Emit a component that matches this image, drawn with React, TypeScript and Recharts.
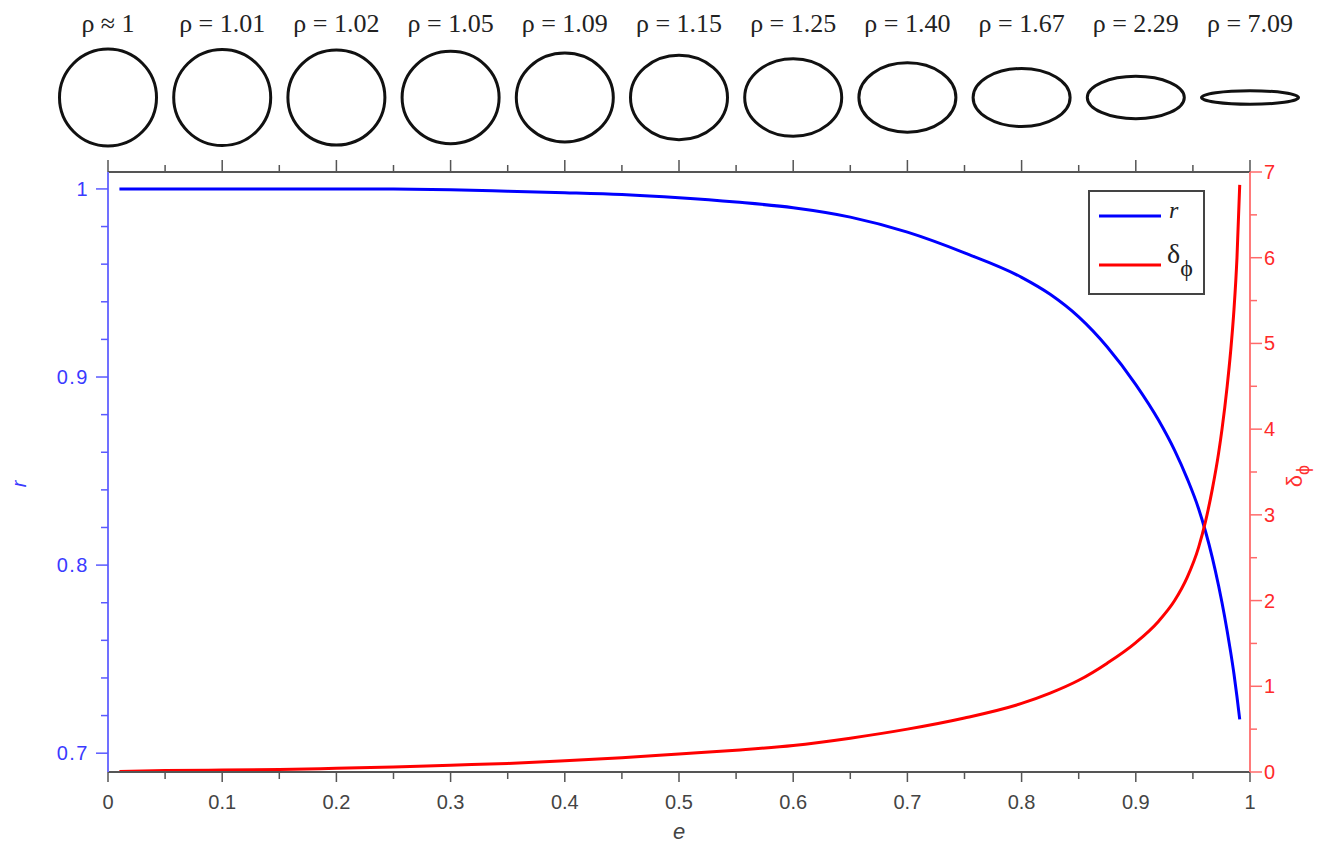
import React from 'react';
import { ComposedChart, Line, XAxis, YAxis, Legend, Label } from 'recharts';

const eValues = [0.01, 0.05, 0.1, 0.15, 0.2, 0.25, 0.3, 0.35, 0.4, 0.45, 0.5, 0.55, 0.6, 0.65, 0.7, 0.75, 0.8, 0.825, 0.85, 0.875, 0.9, 0.92, 0.934, 0.945, 0.955, 0.961, 0.967, 0.9725, 0.9755, 0.98, 0.983, 0.986, 0.9886, 0.991];
const rValues = [1.0, 1.0, 1.0, 1.0, 1.0, 0.9999, 0.9995, 0.9988, 0.998, 0.997, 0.9953, 0.993, 0.99, 0.985, 0.977, 0.966, 0.953, 0.944, 0.932, 0.916, 0.896, 0.877, 0.861, 0.846, 0.83, 0.818, 0.804, 0.789, 0.78, 0.765, 0.754, 0.742, 0.73, 0.718];
const deltaValues = [0.005, 0.017, 0.022, 0.03, 0.043, 0.058, 0.08, 0.1, 0.13, 0.165, 0.21, 0.255, 0.31, 0.395, 0.5, 0.63, 0.8, 0.92, 1.07, 1.27, 1.51, 1.76, 2.0, 2.27, 2.62, 2.92, 3.3, 3.72, 4.0, 4.5, 4.9, 5.4, 6.0, 6.85];

const eTicks = [0, 0.05, 0.1, 0.15, 0.2, 0.25, 0.3, 0.35, 0.4, 0.45, 0.5, 0.55, 0.6, 0.65, 0.7, 0.75, 0.8, 0.85, 0.9, 0.95, 1];
const rTicks = [0.7, 0.72, 0.74, 0.76, 0.78, 0.8, 0.82, 0.84, 0.86, 0.88, 0.9, 0.92, 0.94, 0.96, 0.98, 1.0];
const deltaTicks = [0, 0.5, 1, 1.5, 2, 2.5, 3, 3.5, 4, 4.5, 5, 5.5, 6, 6.5, 7];

const rhoValues = [1, 1.01, 1.02, 1.05, 1.09, 1.15, 1.25, 1.4, 1.67, 2.29, 7.09];
const rhoLabels = ['ρ ≈ 1', 'ρ = 1.01', 'ρ = 1.02', 'ρ = 1.05', 'ρ = 1.09', 'ρ = 1.15', 'ρ = 1.25', 'ρ = 1.40', 'ρ = 1.67', 'ρ = 2.29', 'ρ = 7.09'];

const seriesNames = ['r', 'δ', 'ϕ'];

const data = eValues.map((e, i) => ({ e, r: rValues[i], d: deltaValues[i] }));

const isMajor = (v: number, step: number) => Math.abs(v / step - Math.round(v / step)) < 1e-6;
const fmt = (v: number) => String(Math.round(v * 10) / 10);

const SANS = "'Liberation Sans', Arial, sans-serif";
const SERIF = "'Liberation Serif', 'Times New Roman', serif";

const TopTick = (props: any) => {
  const { x, y, payload } = props;
  const v = payload.value;
  const major = isMajor(v, 0.1);
  const idx = Math.round(v * 10);
  return (
    <g>
      <line x1={x} x2={x} y1={y} y2={y - (major ? 12 : 7)} stroke="#555" strokeWidth={1.5} />
      {major && (
        <ellipse cx={x} cy={y - 74.5} rx={48.5} ry={48.5 / rhoValues[idx]} fill="none" stroke="#111" strokeWidth={3} />
      )}
      {major && (
        <text x={x} y={y - 140} textAnchor="middle" fontFamily={SERIF} fontSize={26} fill="#222">
          {rhoLabels[idx]}
        </text>
      )}
    </g>
  );
};

const BottomTick = (props: any) => {
  const { x, y, payload } = props;
  const v = payload.value;
  const major = isMajor(v, 0.1);
  return (
    <g>
      <line x1={x} x2={x} y1={y} y2={y + (major ? 10 : 7)} stroke="#555" strokeWidth={1.5} />
      {major && (
        <text x={x} y={y + 37} textAnchor="middle" fontFamily={SANS} fontSize={20} fill="#444">
          {fmt(v)}
        </text>
      )}
    </g>
  );
};

const LeftTick = (props: any) => {
  const { x, y, payload } = props;
  const v = payload.value;
  const major = isMajor(v, 0.1);
  return (
    <g>
      <line x1={x} x2={x - (major ? 12 : 7)} y1={y} y2={y} stroke="#5a5aff" strokeWidth={1.5} />
      {major && (
        <text x={x - 19} y={y + 7} textAnchor="end" fontFamily={SANS} fontSize={20} letterSpacing={1.5} fill="#3a3aff">
          {fmt(v)}
        </text>
      )}
    </g>
  );
};

const RightTick = (props: any) => {
  const { x, y, payload } = props;
  const v = payload.value;
  const major = isMajor(v, 1);
  return (
    <g>
      <line x1={x} x2={x + (major ? 12 : 7)} y1={y} y2={y} stroke="#ff6a6a" strokeWidth={1.5} />
      {major && (
        <text x={x + 14} y={y + 7} textAnchor="start" fontFamily={SANS} fontSize={20} fill="#ff2a2a">
          {fmt(v)}
        </text>
      )}
    </g>
  );
};

const LegendBox = () => (
  <div style={{ width: 117, height: 105, border: '2px solid #444', boxSizing: 'border-box', background: '#fff' }}>
    <svg width={113} height={101} style={{ display: 'block' }}>
      <line x1={9} x2={71} y1={24} y2={24} stroke="#0000ff" strokeWidth={3} />
      <text x={79} y={26} fontFamily={SERIF} fontStyle="italic" fontSize={24} fill="#222">{seriesNames[0]}</text>
      <line x1={9} x2={71} y1={73} y2={73} stroke="#ff0000" strokeWidth={3} />
      <text x={77} y={71} fontFamily={SERIF} fontSize={28} fill="#222">
        {seriesNames[1]}
        <tspan dy={13} fontSize={24}>{seriesNames[2]}</tspan>
      </text>
    </svg>
  </div>
);

export default function App() {
  return (
    <ComposedChart width={1313} height={840} data={data} margin={{ top: 0, right: 0, bottom: 0, left: 0 }}>
      <XAxis
        xAxisId="top"
        orientation="top"
        type="number"
        dataKey="e"
        domain={[0, 1]}
        ticks={eTicks}
        interval={0}
        height={164}
        tickSize={0}
        tickMargin={0}
        tickLine={false}
        axisLine={{ stroke: '#555', strokeWidth: 2 }}
        tick={TopTick}
      />
      <XAxis
        xAxisId="bottom"
        orientation="bottom"
        type="number"
        dataKey="e"
        domain={[0, 1]}
        ticks={eTicks}
        interval={0}
        height={76}
        tickSize={0}
        tickMargin={0}
        tickLine={false}
        axisLine={{ stroke: '#555', strokeWidth: 2 }}
        tick={BottomTick}
      >
        <Label
          content={(p: any) => {
            const vb = p.viewBox;
            return (
              <text x={vb.x + vb.width / 2} y={vb.y + 67} textAnchor="middle" fontFamily={SANS} fontStyle="italic" fontSize={22} fill="#444">
                e
              </text>
            );
          }}
        />
      </XAxis>
      <YAxis
        yAxisId="left"
        orientation="left"
        type="number"
        domain={[0.69, 1.009]}
        allowDataOverflow
        ticks={rTicks}
        interval={0}
        width={100}
        tickSize={0}
        tickMargin={0}
        tickLine={false}
        axisLine={{ stroke: '#7070ff', strokeWidth: 2 }}
        tick={LeftTick}
      >
        <Label
          content={(p: any) => {
            const vb = p.viewBox;
            const cx = vb.x + 18;
            const cy = vb.y + vb.height / 2 + 12;
            return (
              <text x={cx} y={cy} transform={`rotate(-90 ${cx} ${cy})`} textAnchor="middle" fontFamily={SANS} fontStyle="italic" fontSize={20} fill="#3a3aff">
                r
              </text>
            );
          }}
        />
      </YAxis>
      <YAxis
        yAxisId="right"
        orientation="right"
        type="number"
        domain={[0, 7]}
        allowDataOverflow
        ticks={deltaTicks}
        interval={0}
        width={71}
        tickSize={0}
        tickMargin={0}
        tickLine={false}
        axisLine={{ stroke: '#ff7a7a', strokeWidth: 2 }}
        tick={RightTick}
      >
        <Label
          content={(p: any) => {
            const vb = p.viewBox;
            const cx = vb.x + 52;
            const cy = vb.y + vb.height / 2 + 4;
            return (
              <text x={cx} y={cy} transform={`rotate(-90 ${cx} ${cy})`} textAnchor="middle" fontFamily={SANS} fontSize={22} fill="#ff3030">
                {seriesNames[1]}
                <tspan dy={7} fontSize={18}>{seriesNames[2]}</tspan>
              </text>
            );
          }}
        />
      </YAxis>
      <Legend
        layout="vertical"
        verticalAlign="middle"
        align="center"
        wrapperStyle={{ position: 'absolute', top: 182, left: 1080, width: 117, height: 105 }}
        content={() => <LegendBox />}
      />
      <Line xAxisId="bottom" yAxisId="left" type="monotone" dataKey="r" stroke="#0000ff" strokeWidth={3} dot={false} isAnimationActive={false} />
      <Line xAxisId="bottom" yAxisId="right" type="monotone" dataKey="d" stroke="#ff0000" strokeWidth={3} dot={false} isAnimationActive={false} />
    </ComposedChart>
  );
}
